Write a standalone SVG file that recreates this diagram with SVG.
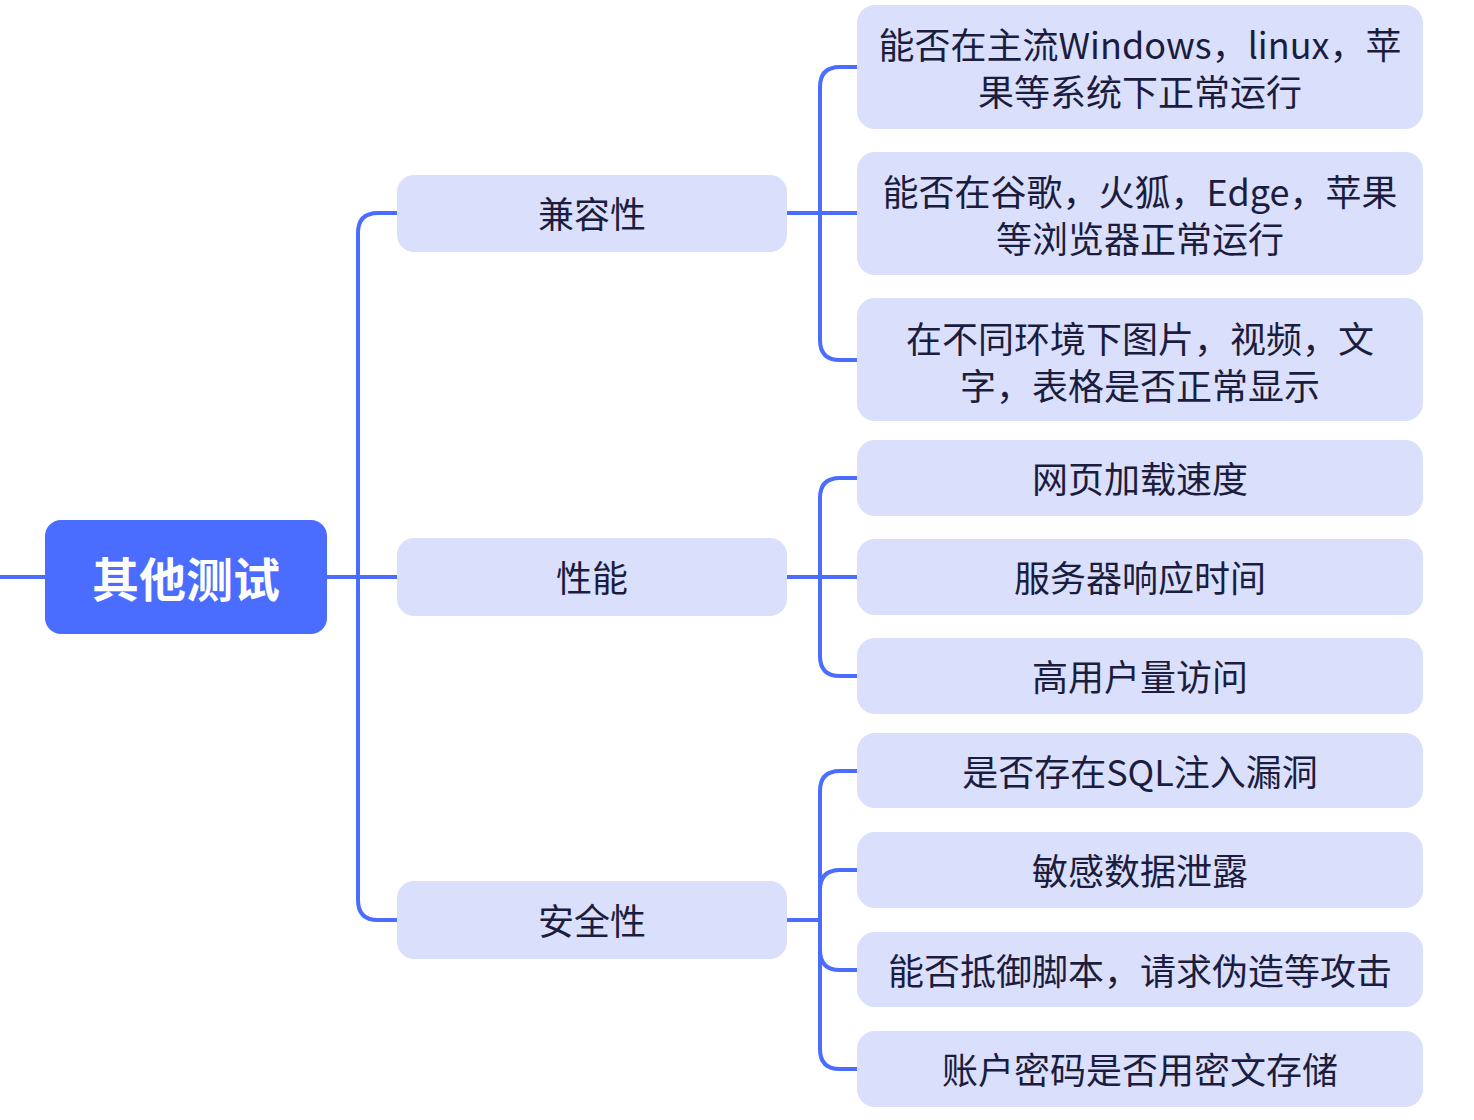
<svg xmlns="http://www.w3.org/2000/svg" width="1474" height="1120" viewBox="0 0 1474 1120">
<style>
.c{fill:none;stroke:#4A6CFF;stroke-width:4;stroke-linecap:butt}
.b{fill:#DAE0FC}
.t{font-family:"Noto Sans CJK SC","Noto Sans",sans-serif;font-size:36px;fill:#1C1D3E;text-anchor:middle}
.r{font-family:"Noto Sans CJK SC","Noto Sans",sans-serif;font-size:47px;font-weight:bold;fill:#FFFFFF;text-anchor:middle}
</style>
<rect width="1474" height="1120" fill="#FFFFFF"/>
<g id="connectors">
<path class="c" d="M0 577 H45"/>
<path class="c" d="M327 577 H397"/>
<path class="c" d="M397 213 H378 Q358 213 358 233 V900 Q358 920 378 920 H397"/>
<path class="c" d="M787 213 H857"/>
<path class="c" d="M857 67 H840 Q820 67 820 87 V340 Q820 360 840 360 H857"/>
<path class="c" d="M787 577 H857"/>
<path class="c" d="M857 478 H840 Q820 478 820 498 V656 Q820 676 840 676 H857"/>
<path class="c" d="M787 920 H820"/>
<path class="c" d="M857 771 H840 Q820 771 820 791 V1049 Q820 1069 840 1069 H857"/>
<path class="c" d="M857 870 H840 Q820 870 820 890 V950 Q820 970 840 970 H857"/>
</g>
<g id="root">
<rect x="45" y="520" width="282" height="114" rx="16" fill="#4A6CFF"/>
<text class="r" x="186" y="597">其他测试</text>
</g>
<g id="compat">
<rect class="b" x="397" y="175" width="390" height="77" rx="17"/>
<text class="t" x="592" y="228">兼容性</text>
</g>
<g id="perf">
<rect class="b" x="397" y="538" width="390" height="78" rx="17"/>
<text class="t" x="592" y="592">性能</text>
</g>
<g id="security">
<rect class="b" x="397" y="881" width="390" height="78" rx="17"/>
<text class="t" x="592" y="935">安全性</text>
</g>
<g id="leaf1">
<rect class="b" x="857" y="5" width="566" height="124" rx="18"/>
<text class="t" x="1140" y="59">能否在主流Windows，linux，苹</text>
<text class="t" x="1140" y="106">果等系统下正常运行</text>
</g>
<g id="leaf2">
<rect class="b" x="857" y="152" width="566" height="123" rx="18"/>
<text class="t" x="1140" y="206">能否在谷歌，火狐，Edge，苹果</text>
<text class="t" x="1140" y="253">等浏览器正常运行</text>
</g>
<g id="leaf3">
<rect class="b" x="857" y="298" width="566" height="123" rx="18"/>
<text class="t" x="1140" y="353">在不同环境下图片，视频，文</text>
<text class="t" x="1140" y="400">字，表格是否正常显示</text>
</g>
<g id="leaf4">
<rect class="b" x="857" y="440" width="566" height="76" rx="18"/>
<text class="t" x="1140" y="493">网页加载速度</text>
</g>
<g id="leaf5">
<rect class="b" x="857" y="539" width="566" height="76" rx="18"/>
<text class="t" x="1140" y="592">服务器响应时间</text>
</g>
<g id="leaf6">
<rect class="b" x="857" y="638" width="566" height="76" rx="18"/>
<text class="t" x="1140" y="691">高用户量访问</text>
</g>
<g id="leaf7">
<rect class="b" x="857" y="733" width="566" height="75" rx="18"/>
<text class="t" x="1140" y="786">是否存在SQL注入漏洞</text>
</g>
<g id="leaf8">
<rect class="b" x="857" y="832" width="566" height="76" rx="18"/>
<text class="t" x="1140" y="885">敏感数据泄露</text>
</g>
<g id="leaf9">
<rect class="b" x="857" y="932" width="566" height="75" rx="18"/>
<text class="t" x="1140" y="985">能否抵御脚本，请求伪造等攻击</text>
</g>
<g id="leaf10">
<rect class="b" x="857" y="1031" width="566" height="76" rx="18"/>
<text class="t" x="1140" y="1084">账户密码是否用密文存储</text>
</g>
</svg>
